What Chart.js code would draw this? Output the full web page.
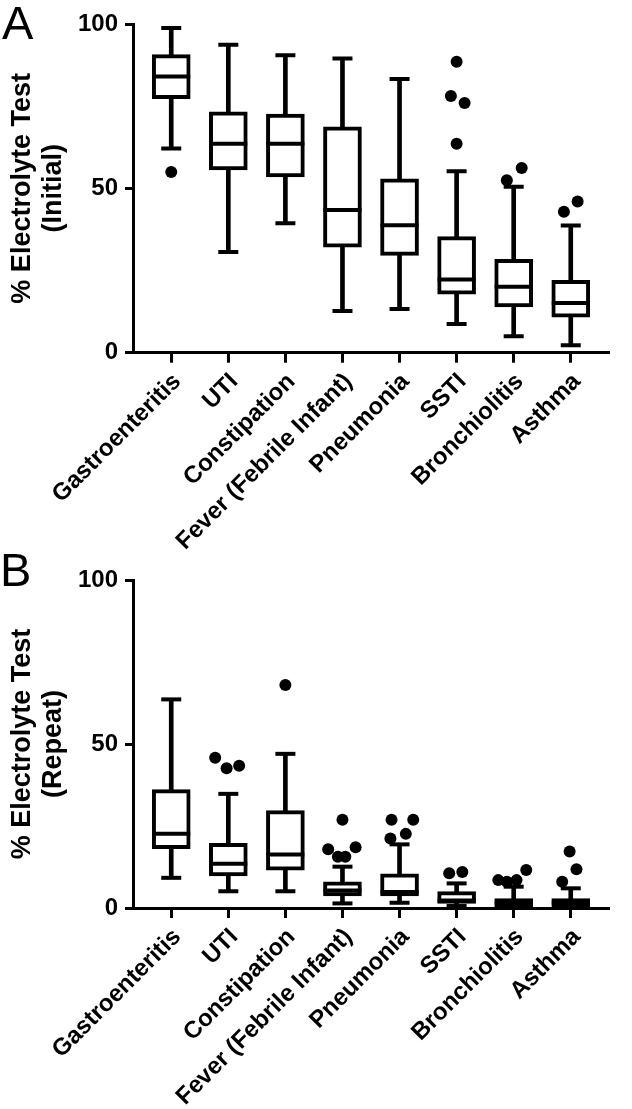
<!DOCTYPE html>
<html><head><meta charset="utf-8">
<script src="https://cdn.jsdelivr.net/npm/chart.js@4.4.1/dist/chart.umd.min.js"></script>
<style>
html,body{margin:0;padding:0;background:#fff;width:632px;height:1109px;overflow:hidden;}
#wrap{position:relative;width:632px;height:1109px;background:#fff;}
canvas{position:absolute;left:0;}
.lbl{position:absolute;font-family:'Liberation Sans',Arial,sans-serif;font-size:47px;line-height:1;color:#000;}
</style></head><body>
<div id="wrap">
<canvas id="cA" width="632" height="555" style="top:0;width:632px;height:555px"></canvas>
<canvas id="cB" width="632" height="554" style="top:555px;width:632px;height:554px"></canvas>
<div class="lbl" style="left:2px;top:-1px">A</div>
<div class="lbl" style="left:0px;top:546px">B</div>
</div>
<script>
const categories = ['Gastroenteritis','UTI','Constipation','Fever (Febrile Infant)','Pneumonia','SSTI','Bronchiolitis','Asthma'];
const yTicks = [0, 50, 100];

// Panel A: initial
const minA = [62.1, 30.6, 39.4, 12.7, 13.3, 8.7, 5.0, 2.3];
const q1A  = [77.3, 55.6, 53.5, 32.1, 29.6, 17.8, 13.9, 10.8];
const medA = [84.0, 63.6, 63.6, 43.4, 38.8, 22.3, 20.1, 15.1];
const q3A  = [90.7, 73.3, 72.6, 68.7, 52.9, 35.3, 28.4, 22.0];
const maxA = [98.8, 93.7, 90.5, 89.5, 83.3, 55.2, 50.5, 38.7];
const outAx = [1, 6, 5.9, 6.14, 6, 6.88, 7.14, 7.88, 8.12];
const outAy = [55.0, 88.5, 78.1, 76.0, 63.6, 52.5, 56.2, 42.9, 46.0];

// Panel B: repeat
const minB = [9.2, 5.1, 5.1, 1.4, 1.6, 0.6, 0.0, 0.0];
const q1B  = [18.1, 9.8, 11.5, 3.7, 3.7, 1.4, 0.4, 0.4];
const medB = [22.6, 13.5, 16.3, 5.3, 4.9, 2.3, 1.6, 1.6];
const q3B  = [36.1, 19.7, 29.7, 8.0, 10.4, 5.0, 2.9, 2.9];
const maxB = [63.6, 34.8, 47.0, 12.6, 19.4, 7.5, 6.5, 6.0];
const outBx = [1.77, 1.97, 2.19, 3, 4, 3.75, 3.92, 4.05, 4.23, 4.86, 5.24, 4.84, 5.11, 5.87, 6.1, 6.73, 6.88, 7.05, 7.22, 7.98, 8.1, 7.85];
const outBy = [45.8, 42.6, 43.4, 68.0, 26.9, 17.9, 15.6, 15.6, 18.5, 26.9, 26.9, 21.2, 22.6, 10.6, 11.0, 8.5, 8.0, 8.5, 11.6, 17.2, 11.8, 8.0];

const FONT = "'Liberation Sans', Arial, Helvetica, sans-serif";

function makeChart(id, H, padTop, plotBottom, mins, q1s, meds, q3s, maxs, ox, oy, title) {
  const whiskers = categories.map((c, i) => ({x: i + 1, y: [mins[i], maxs[i]]}));
  const boxes = categories.map((c, i) => ({x: i + 1, y: [q1s[i], q3s[i]]}));
  const caps = categories.flatMap((c, i) => [{x: i + 1, y: mins[i]}, {x: i + 1, y: maxs[i]}]);
  const medians = categories.map((c, i) => ({x: i + 1, y: meds[i]}));
  const outliers = ox.map((x, i) => ({x: x, y: oy[i]}));
  return new Chart(document.getElementById(id), {
    type: 'bar',
    data: {
      datasets: [
        {type: 'bar', data: whiskers, backgroundColor: '#000', borderWidth: 0, barThickness: 4, grouped: false, order: 4},
        {type: 'bar', data: boxes, backgroundColor: '#fff', borderColor: '#000', borderWidth: 4, borderSkipped: false, barThickness: 38, grouped: false, order: 3},
        {type: 'scatter', data: caps, pointStyle: 'line', pointRadius: 10, pointBorderWidth: 4, borderWidth: 4, pointBorderColor: '#000', borderColor: '#000', order: 2},
        {type: 'scatter', data: medians, pointStyle: 'line', pointRadius: 19, pointBorderWidth: 4, borderWidth: 4, pointBorderColor: '#000', borderColor: '#000', order: 1},
        {type: 'scatter', data: outliers, pointStyle: 'circle', pointRadius: 6, pointBorderWidth: 0, borderWidth: 0, pointBackgroundColor: '#000', backgroundColor: '#000', order: 0}
      ]
    },
    options: {
      responsive: false,
      maintainAspectRatio: false,
      animation: false,
      events: [],
      devicePixelRatio: 1,
      layout: {padding: {top: padTop, right: 4, left: 0, bottom: 0}},
      plugins: {legend: {display: false}, tooltip: {enabled: false}, title: {display: false}},
      scales: {
        x: {
          type: 'linear', min: 0.33, max: 8.67, offset: false,
          grid: {display: true, drawOnChartArea: false, drawTicks: true, tickLength: 10, tickWidth: 3, color: '#000', offset: false},
          border: {display: true, color: '#000', width: 3},
          afterBuildTicks: (s) => { s.ticks = categories.map((c, i) => ({value: i + 1})); },
          afterFit: (s) => { s.height = H - plotBottom; },
          ticks: {
            autoSkip: false, maxRotation: 45, minRotation: 45, padding: 5, labelOffset: 6, color: '#000',
            font: {family: FONT, size: 24, weight: 'bold'},
            callback: (v) => categories[Math.round(v) - 1]
          }
        },
        y: {
          type: 'linear', min: 0, max: 100,
          grid: {display: true, drawOnChartArea: false, drawTicks: true, tickLength: 8, tickWidth: 3, color: '#000'},
          border: {display: true, color: '#000', width: 3},
          afterBuildTicks: (s) => { s.ticks = yTicks.map(v => ({value: v})); },
          afterFit: (s) => { s.width = 133; },
          ticks: {padding: 7, color: '#000', font: {family: FONT, size: 24, weight: 'bold'}},
          title: {display: true, text: title, color: '#000', padding: {top: 7, bottom: 0},
                  font: {family: FONT, size: 27, weight: 'bold', lineHeight: 1.15}}
        }
      }
    }
  });
}

makeChart('cA', 555, 24, 352.7, minA, q1A, medA, q3A, maxA, outAx, outAy, ['% Electrolyte Test', '(Initial)']);
makeChart('cB', 554, 25, 353, minB, q1B, medB, q3B, maxB, outBx, outBy, ['% Electrolyte Test', '(Repeat)']);
</script>
</body></html>
